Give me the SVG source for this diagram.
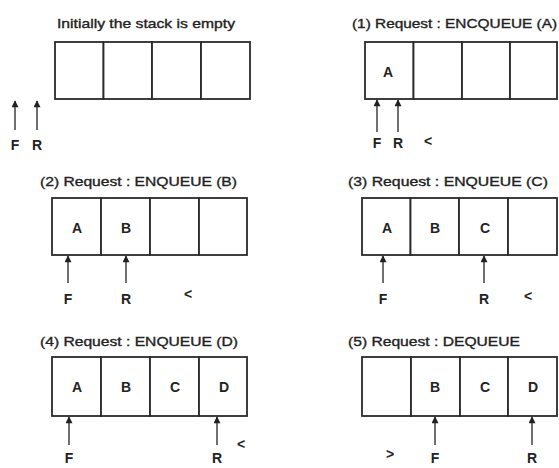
<svg xmlns="http://www.w3.org/2000/svg" width="559" height="468" viewBox="0 0 559 468">
  <style>
    .title { font-family: "Liberation Sans", Arial, sans-serif; font-size: 13px; fill: #222; stroke: #222; stroke-width: 0.35; }
    .cell { fill: #fff; stroke: #2a2a2a; stroke-width: 1.8; }
    .val { font-family: "Liberation Sans", Arial, sans-serif; font-size: 14px; font-weight: bold; fill: #222; text-anchor: middle; }
    .lbl { font-family: "Liberation Sans", Arial, sans-serif; font-size: 14px; font-weight: bold; fill: #222; text-anchor: middle; }
    .ptr { stroke: #222; stroke-width: 1.3; fill: none; marker-end: url(#head); }
  </style>
  <defs>
    <marker id="head" viewBox="0 0 10 10" refX="9" refY="5" markerWidth="9" markerHeight="7" orient="auto" markerUnits="userSpaceOnUse">
      <path d="M0,0 L10,5 L0,10 z" fill="#222"/>
    </marker>
  </defs>
  <rect width="559" height="468" fill="#fff"/>

  <!-- Initial state: empty queue -->
  <g id="state0">
    <text class="title" x="57" y="28" textLength="178" lengthAdjust="spacingAndGlyphs">Initially the stack is empty</text>
    <rect class="cell" x="55" y="42" width="48.5" height="57"/>
    <rect class="cell" x="103.5" y="42" width="48.5" height="57"/>
    <rect class="cell" x="152" y="42" width="49" height="57"/>
    <rect class="cell" x="201" y="42" width="49" height="57"/>
    <text class="lbl" x="15" y="150">F</text>
    <text class="lbl" x="37" y="150">R</text>
  </g>

  <!-- Step 1: enqueue A -->
  <g id="state1">
    <text class="title" x="352" y="28" textLength="205" lengthAdjust="spacingAndGlyphs">(1) Request : ENCQUEUE (A)</text>
    <rect class="cell" x="365" y="42" width="48.5" height="57"/>
    <rect class="cell" x="413.5" y="42" width="48.5" height="57"/>
    <rect class="cell" x="462" y="42" width="48" height="57"/>
    <rect class="cell" x="510" y="42" width="47" height="57"/>
    <text class="val" x="388" y="77">A</text>
    <text class="lbl" x="377" y="148">F</text>
    <text class="lbl" x="398" y="148">R</text>
    <text class="lbl" x="428" y="146">&lt;</text>
  </g>

  <!-- Step 2: enqueue B -->
  <g id="state2">
    <text class="title" x="40" y="186" textLength="197" lengthAdjust="spacingAndGlyphs">(2) Request : ENQUEUE (B)</text>
    <rect class="cell" x="52" y="198" width="49" height="57"/>
    <rect class="cell" x="101" y="198" width="49" height="57"/>
    <rect class="cell" x="150" y="198" width="49" height="57"/>
    <rect class="cell" x="199" y="198" width="48" height="57"/>
    <text class="val" x="77" y="233">A</text>
    <text class="val" x="126" y="233">B</text>
    <text class="lbl" x="68" y="304">F</text>
    <text class="lbl" x="126" y="304">R</text>
    <text class="lbl" x="188" y="299">&lt;</text>
  </g>

  <!-- Step 3: enqueue C -->
  <g id="state3">
    <text class="title" x="348" y="186" textLength="200" lengthAdjust="spacingAndGlyphs">(3) Request : ENQUEUE (C)</text>
    <rect class="cell" x="362" y="198" width="48.5" height="57"/>
    <rect class="cell" x="410.5" y="198" width="48.5" height="57"/>
    <rect class="cell" x="459" y="198" width="49" height="57"/>
    <rect class="cell" x="508" y="198" width="49" height="57"/>
    <text class="val" x="387" y="233">A</text>
    <text class="val" x="435" y="233">B</text>
    <text class="val" x="485" y="233">C</text>
    <text class="lbl" x="383" y="304">F</text>
    <text class="lbl" x="484" y="304">R</text>
    <text class="lbl" x="528" y="301">&lt;</text>
  </g>

  <!-- Step 4: enqueue D -->
  <g id="state4">
    <text class="title" x="40" y="346" textLength="198" lengthAdjust="spacingAndGlyphs">(4) Request : ENQUEUE (D)</text>
    <rect class="cell" x="52" y="357" width="49" height="59"/>
    <rect class="cell" x="101" y="357" width="49" height="59"/>
    <rect class="cell" x="150" y="357" width="49" height="59"/>
    <rect class="cell" x="199" y="357" width="48" height="59"/>
    <text class="val" x="77" y="392">A</text>
    <text class="val" x="126" y="392">B</text>
    <text class="val" x="175" y="392">C</text>
    <text class="val" x="224" y="392">D</text>
    <text class="lbl" x="69" y="463">F</text>
    <text class="lbl" x="217" y="463">R</text>
    <text class="lbl" x="241" y="449">&lt;</text>
  </g>

  <!-- Step 5: dequeue -->
  <g id="state5">
    <text class="title" x="348" y="346" textLength="172" lengthAdjust="spacingAndGlyphs">(5) Request : DEQUEUE</text>
    <rect class="cell" x="362" y="357" width="49" height="59"/>
    <rect class="cell" x="411" y="357" width="49" height="59"/>
    <rect class="cell" x="460" y="357" width="48" height="59"/>
    <rect class="cell" x="508" y="357" width="49" height="59"/>
    <text class="val" x="435" y="392">B</text>
    <text class="val" x="485" y="392">C</text>
    <text class="val" x="533" y="392">D</text>
    <text class="lbl" x="435" y="463">F</text>
    <text class="lbl" x="532" y="463">R</text>
    <text class="lbl" x="390" y="459">&gt;</text>
  </g>

  <!-- Front / rear pointers -->
  <g id="connectors">
    <line class="ptr" x1="15" y1="130" x2="15" y2="101"/>
    <line class="ptr" x1="37" y1="130" x2="37" y2="101"/>
    <line class="ptr" x1="377" y1="132" x2="377" y2="100"/>
    <line class="ptr" x1="398" y1="132" x2="398" y2="100"/>
    <line class="ptr" x1="68" y1="283" x2="68" y2="256"/>
    <line class="ptr" x1="126" y1="283" x2="126" y2="256"/>
    <line class="ptr" x1="383" y1="283" x2="383" y2="256"/>
    <line class="ptr" x1="484" y1="283" x2="484" y2="256"/>
    <line class="ptr" x1="69" y1="445" x2="69" y2="417"/>
    <line class="ptr" x1="217" y1="445" x2="217" y2="417"/>
    <line class="ptr" x1="435" y1="445" x2="435" y2="417"/>
    <line class="ptr" x1="532" y1="445" x2="532" y2="417"/>
  </g>
</svg>
